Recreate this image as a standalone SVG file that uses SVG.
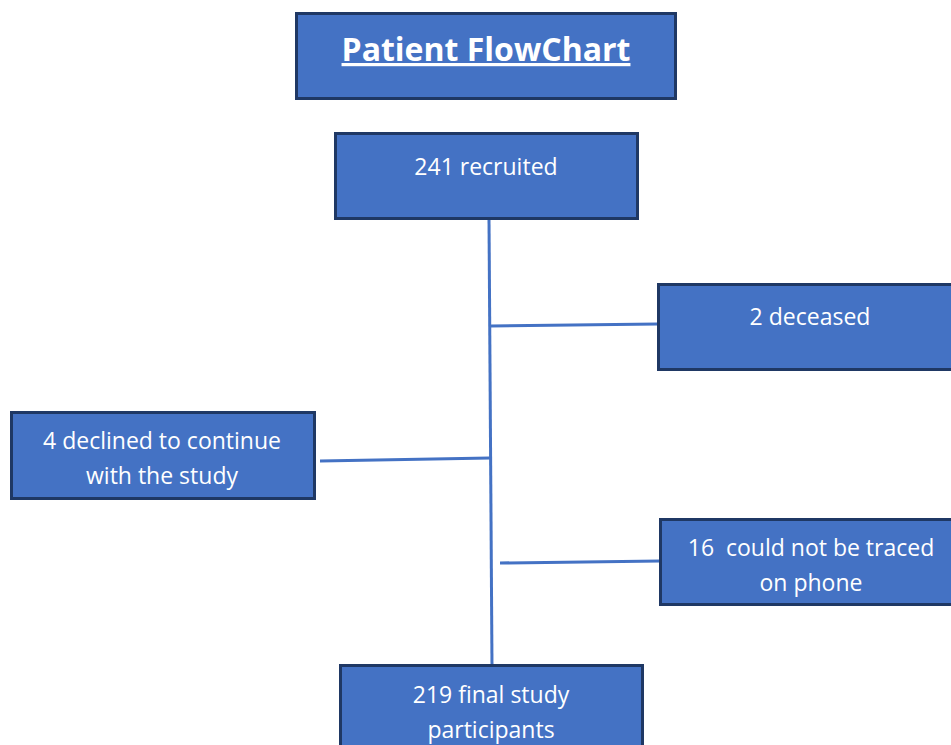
<svg xmlns="http://www.w3.org/2000/svg" width="951" height="745" viewBox="0 0 951 745">
<style>
.box{fill:#4472c4;stroke:#1f3864;stroke-width:3}
.t{fill:#ffffff;font-family:"Open Sans","Noto Sans",sans-serif;font-size:23px;text-anchor:middle;white-space:pre}
.title{font-weight:bold;font-size:32px;text-decoration:underline}
.c{stroke:#4472c4;stroke-width:3;fill:none}
</style>
<rect width="951" height="745" fill="#ffffff"/>
<g id="connectors">
<line class="c" x1="489" y1="219" x2="492" y2="665"/>
<line class="c" x1="491" y1="326" x2="658" y2="324"/>
<line class="c" x1="320" y1="461" x2="490" y2="458"/>
<line class="c" x1="500" y1="563" x2="660" y2="561"/>
</g>
<g id="title">
<rect class="box" x="296.5" y="13.5" width="379" height="85"/>
<text class="t title" x="486" y="61">Patient FlowChart</text>
</g>
<g id="recruited">
<rect class="box" x="335.5" y="133.5" width="302" height="85"/>
<text class="t" x="486" y="175">241 recruited</text>
</g>
<g id="deceased">
<rect class="box" x="658.5" y="284.5" width="305" height="85"/>
<text class="t" x="810" y="325">2 deceased</text>
</g>
<g id="declined">
<rect class="box" x="11.5" y="412.5" width="303" height="86"/>
<text class="t" x="162" y="449">4 declined to continue</text>
<text class="t" x="162" y="484">with the study</text>
</g>
<g id="traced">
<rect class="box" x="660.5" y="519.5" width="303" height="85"/>
<text class="t" x="811" y="556" xml:space="preserve">16  could not be traced</text>
<text class="t" x="811" y="591">on phone</text>
</g>
<g id="final">
<rect class="box" x="340.5" y="665.5" width="302" height="90"/>
<text class="t" x="491" y="703">219 final study</text>
<text class="t" x="491" y="738">participants</text>
</g>
</svg>
